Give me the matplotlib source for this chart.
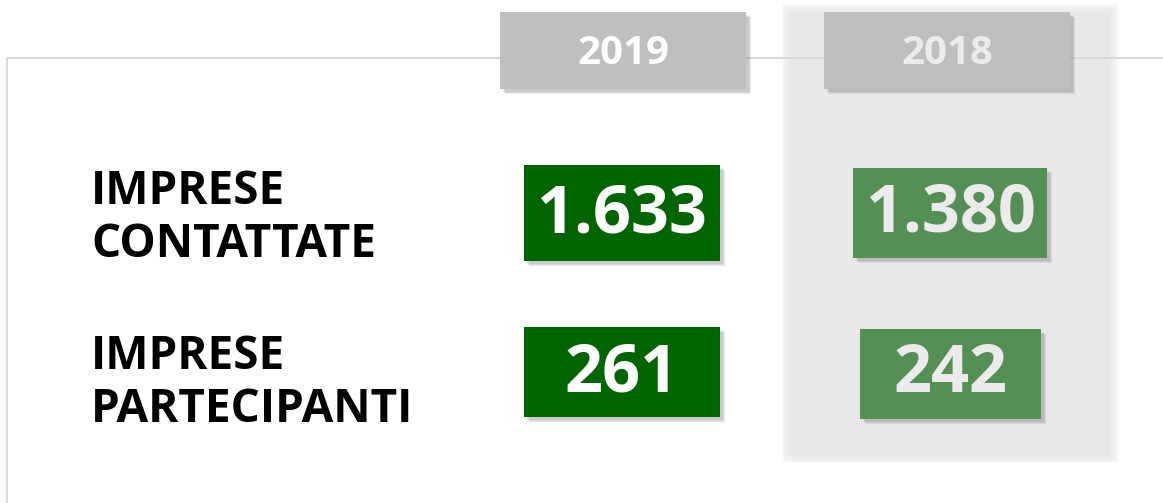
import matplotlib.pyplot as plt
from matplotlib.patches import Rectangle

# data
years = ['2019', '2018']
labels = ['IMPRESE\nCONTATTATE', 'IMPRESE\nPARTECIPANTI']
values_2019 = ['1.633', '261']
values_2018 = ['1.380', '242']

plt.rcParams['font.family'] = ['Open Sans', 'DejaVu Sans']

fig = plt.figure(figsize=(11.63, 5.03), dpi=100)
ax = fig.add_axes([0, 0, 1, 1])
ax.set_xlim(0, 1163)
ax.set_ylim(503, 0)
ax.axis('off')


def box(x, y, w, h, color, shadow=True, z=3):
    if shadow:
        for i, a in enumerate([0.10, 0.10, 0.12]):
            d = 3 + i
            ax.add_patch(Rectangle((x + d, y + d), w, h, color='#505050',
                                   alpha=a, lw=0, zorder=z - 0.5))
    ax.add_patch(Rectangle((x, y), w, h, color=color, lw=0, zorder=z))


# soft grey column behind 2018
for i in range(8):
    m = 8 - i
    ax.add_patch(Rectangle((790 - m, 12 - m), 320 + 2 * m, 443 + 2 * m,
                           color='#e8e8e8', alpha=0.18, lw=0, zorder=0.5))
ax.add_patch(Rectangle((790, 12), 320, 443, color='#e8e8e8', lw=0, zorder=0.6))

# frame lines
ax.plot([7, 7, 1163], [503, 58, 58], color='#d9d9d9', lw=1.5, zorder=1)

# year headers
hx = [500, 824]
ycol = ['white', '#ebebeb']
for x, yr, c in zip(hx, years, ycol):
    box(x, 12, 246, 77, '#bfbfbf')
    ax.text(x + 123, 53, yr, ha='center', va='center', color=c,
            fontsize=29, fontweight='bold')

# row labels
ly = [218, 383]
for y, lab in zip(ly, labels):
    ax.text(91, y, lab, ha='left', va='center', color='black',
            fontsize=33, fontweight='bold', linespacing=1.15)

# value boxes
rows_2019 = [(524, 165, 196, 96), (524, 327, 196, 90)]
rows_2018 = [(853, 168, 194, 90), (860, 329, 181, 90)]
for (x, y, w, h), v in zip(rows_2019, values_2019):
    box(x, y, w, h, '#006400')
    ax.text(x + w / 2, y + h / 2 + 2, v, ha='center', va='center',
            color='white', fontsize=48, fontweight='bold')
for (x, y, w, h), v in zip(rows_2018, values_2018):
    box(x, y, w, h, '#548f54')
    ax.text(x + w / 2, y + h / 2 + 1, v, ha='center', va='center',
            color='#ebebeb', fontsize=48, fontweight='bold')

fig.savefig('out.png', dpi=100, facecolor='white')
